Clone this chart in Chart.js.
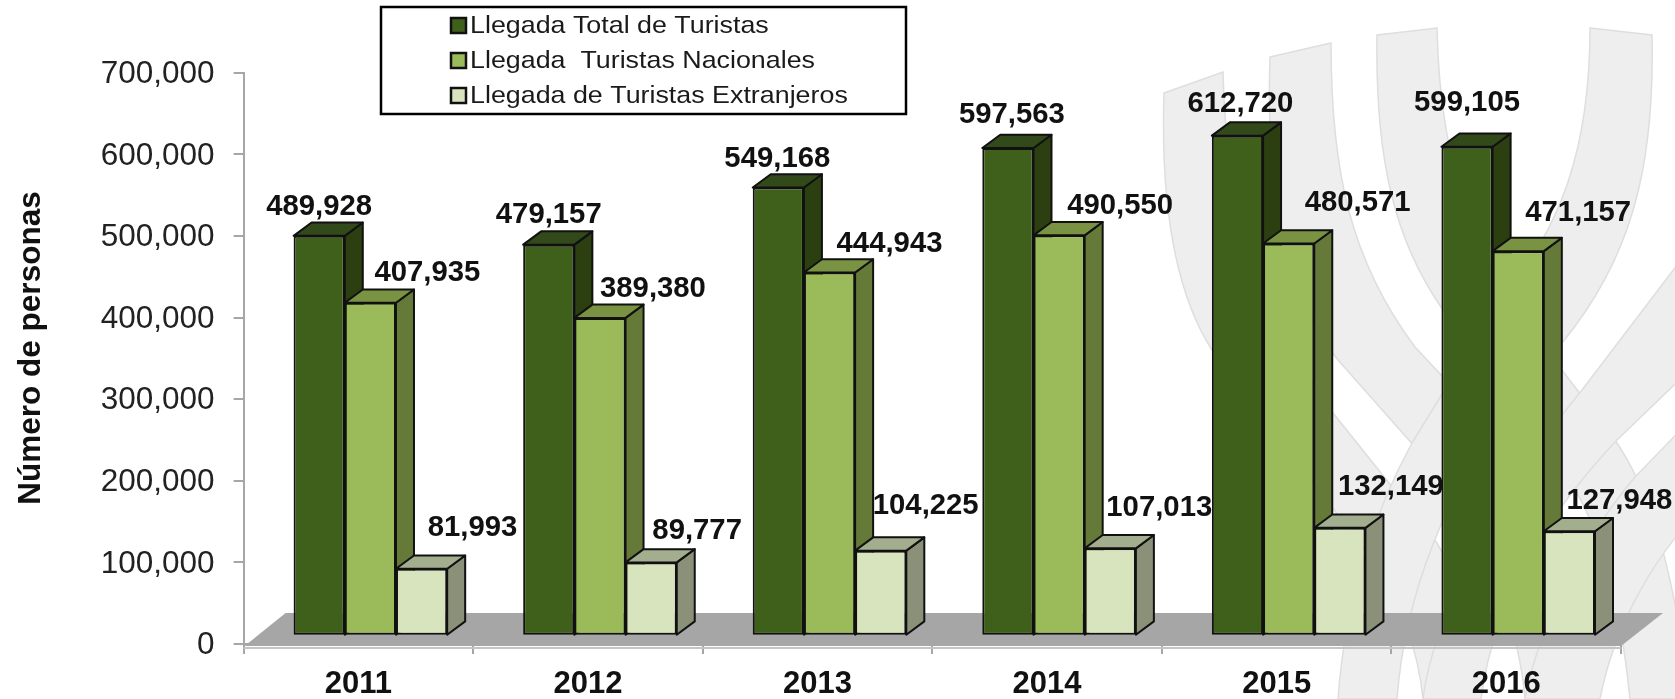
<!DOCTYPE html>
<html><head><meta charset="utf-8">
<style>html,body{margin:0;padding:0;background:#fff}#w{position:relative;width:1675px;height:699px}canvas{filter:blur(0.4px)}</style>
<script src="https://cdn.jsdelivr.net/npm/chart.js@4"></script></head>
<body><div id="w"><canvas id="c" width="1675" height="699"></canvas></div>
<script>
const categories = ['2011','2012','2013','2014','2015','2016'];
const totalTuristas = [489928,479157,549168,597563,612720,599105];
const nacionales = [407935,389380,444943,490550,480571,471157];
const extranjeros = [81993,89777,104225,107013,132149,127948];
const seriesNames = ['Llegada Total de Turistas','Llegada  Turistas Nacionales','Llegada de Turistas Extranjeros'];
const axisTitle = 'Número de personas';

const labelDX = [[0,0,-1,4,3,0],[57,53,60,61,69,60],[51,46,45,49,51,50]];
const labelDY = [[-29,-30,-29,-33,-32,-44],[-30,-29,-29,-29,-41,-38],[-41,-32,-45,-40,-41,-30]];
const front = ['#3f601b','#9bba59','#d7e4bd'];
const side = ['#2b3f10','#657a38','#8a9178'];
const topFace = ['#32491a','#7a9343','#a3ae8f'];
const SHIFT_X = 12, SHIFT_Y = -8.3, DEPTH_X = 18, DEPTH_Y = 13.3;
const fontName = '"Liberation Sans", Arial, sans-serif';

const ribbons = [
 'M1164,93 L1223,72 C1226,200 1250,300 1333,413 L1437,543 C1465,590 1476,630 1481,699 L1423,699 C1418,650 1400,600 1380,570 L1212,350 C1180,300 1160,220 1164,93 Z',
 'M1270,57 L1331,43 C1331,170 1350,260 1415,347 L1530,470 C1565,520 1580,600 1584,699 L1525,699 C1520,640 1500,560 1415,447 L1338,360 C1290,300 1265,200 1270,57 Z',
 'M1377,35 L1437,28 C1440,180 1480,270 1562,370 L1613,437 C1650,490 1672,560 1690,699 L1630,699 C1620,600 1600,520 1562,470 L1441,307 C1395,240 1375,160 1377,35 Z',
 'M1590,28 L1652,35 C1655,170 1630,260 1562,343 L1500,420 C1450,490 1405,590 1397,699 L1338,699 C1345,600 1375,510 1412,443 L1500,300 C1560,230 1590,150 1590,28 Z',
 'M1700,235 L1700,360 L1617,440 C1560,500 1495,590 1481,699 L1423,699 C1432,620 1500,490 1582,390 Z',
 'M1700,410 L1700,510 C1660,550 1615,620 1600,699 L1525,699 C1540,620 1590,530 1635,477 Z'
];

const wovenBackground = {
  id:'wovenBackground',
  beforeDraw(chart){
    const g = chart.ctx;
    g.save();
    g.fillStyle='#fff'; g.fillRect(0,0,chart.width,chart.height);
    g.fillStyle='#eeeeee'; g.strokeStyle='#dedede'; g.lineWidth=1.5;
    for(const d of ribbons){const p=new Path2D(d); g.fill(p); g.stroke(p);}
    g.restore();
  }
};

const threeD = {
  id:'threeD',
  beforeDatasetsDraw(chart){
    const g = chart.ctx, a = chart.chartArea;
    g.save();
    g.fillStyle='#a6a6a6';
    g.beginPath();
    g.moveTo(a.left+1,a.bottom+2); g.lineTo(a.left+42,a.bottom-31);
    g.lineTo(a.right+42,a.bottom-31); g.lineTo(a.right,a.bottom+2); g.closePath(); g.fill();
    g.strokeStyle='#c4c4c4'; g.lineWidth=2;
    g.beginPath(); g.moveTo(a.left,a.bottom+4); g.lineTo(a.right,a.bottom+4); g.stroke();
    g.restore();
    chart.data.datasets.forEach((ds,i)=>{
      const m = chart.getDatasetMeta(i);
      m.data.forEach(b=>{
        const l=b.x-b.width/2+SHIFT_X, r=b.x+b.width/2+SHIFT_X, t=b.y+SHIFT_Y, bt=b.base+SHIFT_Y;
        g.save();
        g.lineWidth=2; g.strokeStyle='#111'; g.lineJoin='round';
        g.fillStyle=side[i]; g.beginPath();
        g.moveTo(r,t); g.lineTo(r+DEPTH_X,t-DEPTH_Y); g.lineTo(r+DEPTH_X,bt-DEPTH_Y); g.lineTo(r,bt); g.closePath(); g.fill(); g.stroke();
        g.fillStyle=topFace[i]; g.beginPath();
        g.moveTo(l,t); g.lineTo(l+DEPTH_X,t-DEPTH_Y); g.lineTo(r+DEPTH_X,t-DEPTH_Y); g.lineTo(r,t); g.closePath(); g.fill(); g.stroke();
        g.translate(SHIFT_X,SHIFT_Y);
        b.draw(g,chart.chartArea);
        g.restore();
      });
    });
  },
  beforeDatasetDraw(){ return false; },
  afterDatasetsDraw(chart){
    const g = chart.ctx;
    g.save();
    g.font='bold 29.3px '+fontName; g.fillStyle='#111'; g.textAlign='center'; g.textBaseline='middle';
    chart.data.datasets.forEach((ds,i)=>{
      chart.getDatasetMeta(i).data.forEach((b,j)=>{
        const txt = ds.data[j].toLocaleString('en-US');
        g.fillText(txt,b.x+SHIFT_X+labelDX[i][j],b.y+SHIFT_Y+labelDY[i][j]);
      });
    });
    g.save();
    g.translate(31,348); g.rotate(-Math.PI/2);
    g.font='bold 31.5px '+fontName; g.fillStyle='#111';
    g.fillText(axisTitle,0,0);
    g.restore();
    g.fillStyle='#fff'; g.strokeStyle='#000'; g.lineWidth=2.5;
    g.fillRect(381,7,525,107); g.strokeRect(381,7,525,107);
    const rows=[25,60,95];
    chart.data.datasets.forEach((ds,i)=>{
      g.fillStyle=front[i]; g.strokeStyle='#111'; g.lineWidth=2.5;
      g.fillRect(451,rows[i]-7,15,15); g.strokeRect(451,rows[i]-7,15,15);
      g.save();
      g.translate(470,rows[i]+1); g.scale(1.1,1);
      g.font='24.4px '+fontName; g.fillStyle='#1a1a1a'; g.textAlign='left'; g.textBaseline='middle';
      g.fillText(ds.label,0,0);
      g.restore();
    });
    g.restore();
  }
};

new Chart(document.getElementById('c'),{
  type:'bar',
  data:{labels:categories,datasets:[
    {label:seriesNames[0],data:totalTuristas,backgroundColor:front[0]},
    {label:seriesNames[1],data:nacionales,backgroundColor:front[1]},
    {label:seriesNames[2],data:extranjeros,backgroundColor:front[2]}
  ]},
  options:{
    responsive:false,animation:false,
    layout:{padding:{left:0,right:54,top:72.7,bottom:0}},
    datasets:{bar:{categoryPercentage:0.669,barPercentage:1,borderWidth:2,borderColor:'#111',borderSkipped:false}},
    plugins:{legend:{display:false},tooltip:{enabled:false}},
    scales:{
      x:{
        afterFit(s){s.height=55;},
        grid:{drawOnChartArea:false,drawTicks:true,tickLength:10,color:'#a6a6a6',lineWidth:2},
        border:{color:'#a6a6a6',width:2},
        ticks:{color:'#111',font:{family:fontName,size:31,weight:'bold'},padding:12,maxRotation:0}
      },
      y:{
        min:0,max:700000,
        afterFit(s){s.width=243.6;},
        grid:{drawOnChartArea:false,drawTicks:true,tickLength:10,color:'#a6a6a6',lineWidth:2},
        border:{color:'#a6a6a6',width:2},
        ticks:{stepSize:100000,color:'#222',font:{family:fontName,size:31.5},padding:19,labelOffset:1.5,
          callback:v=>v.toLocaleString('en-US')}
      }
    }
  },
  plugins:[wovenBackground,threeD]
});
</script></body></html>
